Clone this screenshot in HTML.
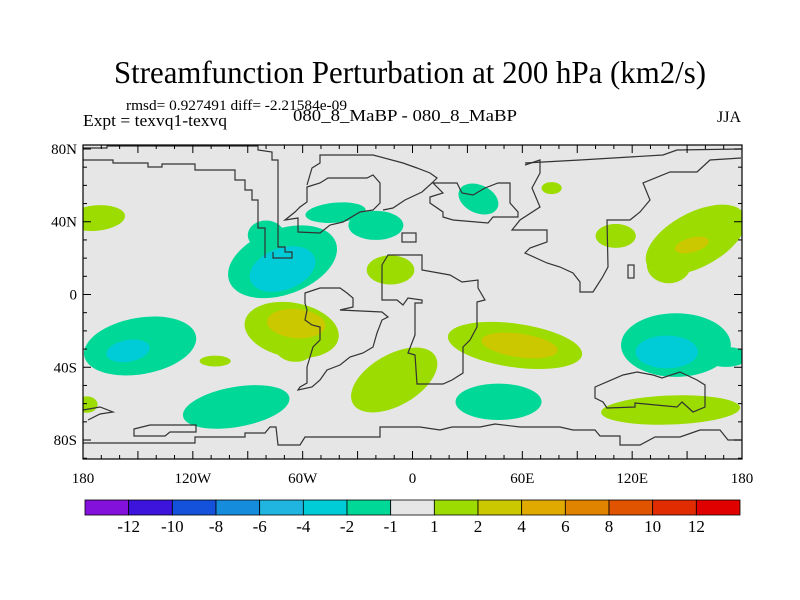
<!DOCTYPE html>
<html><head><meta charset="utf-8"><style>
body{margin:0;background:#fff;}
svg{display:block;font-family:"Liberation Serif",serif;}
</style></head><body>
<svg id="chart" width="800" height="600" viewBox="0 0 800 600">
<rect width="800" height="600" fill="#fff"/>
<text x="410" y="83" font-size="32" text-anchor="middle" textLength="592" lengthAdjust="spacingAndGlyphs">Streamfunction Perturbation at 200 hPa (km2/s)</text>
<text x="126" y="110" font-size="15" textLength="221" lengthAdjust="spacingAndGlyphs">rmsd= 0.927491 diff= -2.21584e-09</text>
<text x="83" y="126" font-size="17" textLength="144" lengthAdjust="spacingAndGlyphs">Expt = texvq1-texvq</text>
<text x="405" y="121" font-size="17" text-anchor="middle" textLength="224" lengthAdjust="spacingAndGlyphs">080_8_MaBP - 080_8_MaBP</text>
<text x="741" y="122" font-size="16" text-anchor="end">JJA</text>
<defs><clipPath id="plotclip"><rect x="83" y="145" width="659" height="314"/></clipPath></defs>
<rect x="83" y="145" width="659" height="314" fill="#e6e6e6"/>
<g id="fills" clip-path="url(#plotclip)"></g>
<g clip-path="url(#plotclip)" fill="none" stroke="#333" stroke-width="1.2">
<polyline points="83,148 107,148 107,146 258,146 258,150 272,152 272,160 278,160 278,247 285,247 285,252 292,252 292,258 273,258 273,252"/>
<polyline points="83,160 113,160 113,163 148,163 148,167 162,167 162,164 195,164 195,170 235,170 235,180 245,180 245,190 252,190 252,200 258,200 258,228 265,228 265,258"/>
<polyline points="307,185 312,168 320,163 320,155 373,155 403,163 417,168 430,173 437,178 432,183 422,192 405,200 393,208 383,210"/>
<polygon points="285,220 298,218 298,232 320,233 330,225 343,222 360,212 373,210 380,203 380,183 373,175 367,178 328,178 320,183 307,187 307,202 300,207 295,212"/>
<polygon points="433,183 457,183 462,193 473,195 485,188 498,183 510,183 510,203 518,212 518,217 493,217 488,223 453,220 443,217 443,212 430,203 430,197 443,193"/>
<polyline points="525,165 540,160 540,173 532,188 540,207 520,220 512,230 547,230 547,242 530,248 525,253 547,263 560,267 573,273 580,282 580,292 593,292 602,278 608,267 607,220 630,220 640,212 650,200 643,183 670,172 697,172 710,160 741,158"/>
<polyline points="525,163 580,160 663,155 677,150 741,149"/>
<polygon points="382,265 388,255 422,255 422,270 450,275 462,282 478,280 478,288 485,300 477,302 477,327 470,340 463,347 463,373 452,380 443,384 417,384 415,355 408,353 415,335 415,303 422,303 422,300 408,298 403,305 397,300 382,300"/>
<polygon points="305,293 320,288 340,288 347,293 353,298 353,307 340,310 382,312 388,317 382,320 377,333 373,347 363,353 350,357 340,365 327,370 320,380 312,387 298,390 300,387 307,383 307,367 313,347 320,340 320,327 312,325 305,320 307,310 305,303"/>
<polygon points="595,387 623,375 637,372 653,375 662,378 680,372 697,380 705,385 705,407 693,412 682,402 677,407 635,403 635,407 607,408 603,402 595,398"/>
<polyline points="83,443 195,443 195,437 245,437 245,433 265,433 270,427 276,427 278,445 300,445 305,437 380,437 380,427 420,427 440,430 452,427 480,427 495,424 520,427 560,427 573,430 595,430 600,436 620,436 620,445 640,445 655,437 680,437 700,430 720,430 728,440 741,440"/>
<polygon points="134,429 150,425 196,425 196,432 170,432 165,436 134,436"/>
<polyline points="83,410 100,407 113,412 100,414 88,420"/>
<rect x="402" y="233" width="14" height="9"/>
<rect x="628" y="265" width="6" height="13"/>
</g>
<rect x="83" y="145" width="659" height="314" fill="none" stroke="#000" stroke-width="1.2"/>
<g id="axes"></g>
<g id="colorbar"></g>
</svg>
<script>
// contour blob data (centre lon, lat, radii in degrees, tilt, level value)
const blobLon = [-173,-71,-80,-42,-20,-12,-66,-64,-148.8,-107.8,-96.3,-10,56,47,36,76,111,154.8,140,143.9,171.2,141,-178,-71,-63.5,-155.4,58.5,152.6,138.9];
const blobLat = [42,18,32.7,45,38,13.5,-19.5,-29,-28.3,-36.6,-61.8,-47,-28,-59,52.5,58.5,32.2,30,16.2,-27.8,-34.3,-63.5,-60.5,14,-16,-31,-28,27.2,-31.6];
const blobRx = [16,31,10,16.5,15,13,26,11,31,8.5,29.5,26,37,23.5,11.5,5.5,11,30,12,30,12,38,6,18.6,16,12,21,9.5,17];
const blobRy = [7,18,8,5.5,8,8,15,8,15.5,3,11,14,12,10,7.7,3.3,6.6,15,10,17.5,5.5,8,4.5,11.5,8,6,6.5,4,9];
const blobTilt = [-5,-20,0,-5,0,0,10,0,-10,0,-10,-30,8,0,25,0,0,-28,0,0,0,-2,0,-20,5,-10,8,-15,0];
const blobValue = [1.5,-1.5,-1.5,-1.5,-1.5,1.5,1.5,1.5,-1.5,1.5,-1.5,1.5,1.5,-1.5,-1.5,1.5,1.5,1.5,1.5,-1.5,-1.5,1.5,1.5,-3,3,-3,3,3,-3];
// colorbar
const cbLevels = [-12,-10,-8,-6,-4,-2,-1,1,2,4,6,8,10,12];
const cbColors = ["#8410dc","#3c14dc","#1452dc","#168cdc","#20b4e0","#00ccd8","#00d898","#e6e6e6","#9cdc00","#ccc800","#e0aa00","#e08400","#e05400","#e02c00","#e00000"];
const lonTickVals = [-180,-120,-60,0,60,120,180];
const lonTickLabels = ["180","120W","60W","0","60E","120E","180"];
const latTickVals = [80,40,0,-40,-80];
const latTickLabels = ["80N","40N","0","40S","80S"];

const NS="http://www.w3.org/2000/svg";
const X0=83, X1=742, Y0=145, Y1=459;
const xS = lon => X0 + (lon+180)*(X1-X0)/360;
const yS = lat => 294.5 - lat*1.819;
const pxLon = (X1-X0)/360, pxLat = 1.819;
function colorFor(v){let i=0;while(i<cbLevels.length && v>cbLevels[i]) i++;return cbColors[i];}

const fills=document.getElementById('fills');
const order=blobValue.map((v,i)=>i).sort((a,b)=>Math.abs(blobValue[a])-Math.abs(blobValue[b]));
order.forEach(i=>{
  const e=document.createElementNS(NS,'ellipse');
  const cx=xS(blobLon[i]), cy=yS(blobLat[i]);
  e.setAttribute('cx',cx);e.setAttribute('cy',cy);
  e.setAttribute('rx',blobRx[i]*pxLon);e.setAttribute('ry',blobRy[i]*pxLat);
  e.setAttribute('transform','rotate('+blobTilt[i]+' '+cx+' '+cy+')');
  e.setAttribute('fill',colorFor(blobValue[i]));
  
  
  fills.appendChild(e);
});

const axes=document.getElementById('axes');
function line(x1,y1,x2,y2,w){const l=document.createElementNS(NS,'line');l.setAttribute('x1',x1);l.setAttribute('y1',y1);l.setAttribute('x2',x2);l.setAttribute('y2',y2);l.setAttribute('stroke','#000');l.setAttribute('stroke-width',w||1);axes.appendChild(l);return l;}
for(let lon=-180;lon<=180;lon+=10){const x=xS(lon);const len=(lon%30===0)?8:4;
  const t1=line(x,Y0,x,Y0+len);
  const t2=line(x,Y1,x,Y1-len);}
for(let lat=-90;lat<=80;lat+=10){const y=yS(lat);if(y<Y0||y>Y1)continue;const len=(lat%40===0)?8:4;
  const t1=line(X0,y,X0+len,y);
  const t2=line(X1,y,X1-len,y);}
lonTickVals.forEach((v,i)=>{const t=document.createElementNS(NS,'text');t.setAttribute('x',xS(v));t.setAttribute('y',483);t.setAttribute('font-size','15');t.setAttribute('text-anchor','middle');t.textContent=lonTickLabels[i];
  
  
  axes.appendChild(t);});
latTickVals.forEach((v,i)=>{const t=document.createElementNS(NS,'text');t.setAttribute('x',77);t.setAttribute('y',yS(v)+5);t.setAttribute('font-size','15');t.setAttribute('text-anchor','end');t.textContent=latTickLabels[i];
  
  
  axes.appendChild(t);});

const cb=document.getElementById('colorbar');
const cbX=85, cbW=655, cbY=500, cbH=15, bw=cbW/cbColors.length;
cbColors.forEach((c,i)=>{const r=document.createElementNS(NS,'rect');r.setAttribute('x',cbX+i*bw);r.setAttribute('y',cbY);r.setAttribute('width',bw);r.setAttribute('height',cbH);r.setAttribute('fill',c);r.setAttribute('stroke','#000');r.setAttribute('stroke-width','0.8');
  
  
  cb.appendChild(r);});
cbLevels.forEach((v,i)=>{const t=document.createElementNS(NS,'text');t.setAttribute('x',cbX+(i+1)*bw);t.setAttribute('y',532);t.setAttribute('font-size','17');t.setAttribute('text-anchor','middle');t.textContent=String(v);
  
  
  cb.appendChild(t);});
</script>
</body></html>
